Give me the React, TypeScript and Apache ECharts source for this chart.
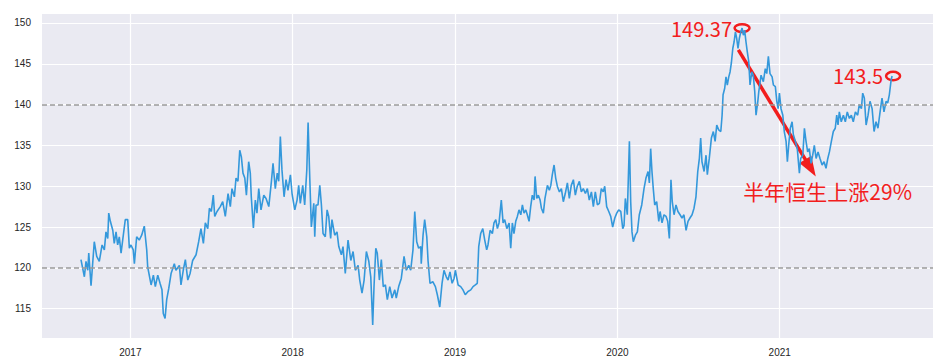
import { useEffect, useRef } from 'react';
import * as echarts from 'echarts';

// decimal-year dates and closing values
const dates = [
  2016.696, 2016.717, 2016.727, 2016.738, 2016.744, 2016.758, 2016.778, 2016.793, 2016.809, 2016.826,
  2016.840, 2016.850, 2016.861, 2016.867, 2016.877, 2016.892, 2016.901, 2016.912, 2016.922, 2016.932,
  2016.943, 2016.953, 2016.969, 2016.984, 2016.994,
  2017.004, 2017.018, 2017.025, 2017.039, 2017.055, 2017.070, 2017.086, 2017.101, 2017.107, 2017.128,
  2017.142, 2017.154, 2017.169, 2017.183, 2017.195, 2017.203, 2017.214, 2017.224, 2017.237, 2017.251,
  2017.271, 2017.281, 2017.302, 2017.312, 2017.326, 2017.339, 2017.354, 2017.368, 2017.384, 2017.405,
  2017.421, 2017.435, 2017.450, 2017.462, 2017.477, 2017.487, 2017.499, 2017.511,
  2017.520, 2017.534, 2017.554, 2017.569, 2017.585, 2017.602, 2017.616, 2017.626, 2017.641, 2017.651,
  2017.663, 2017.674, 2017.684, 2017.694, 2017.705, 2017.715, 2017.729, 2017.739, 2017.745, 2017.758,
  2017.770, 2017.780, 2017.791, 2017.805, 2017.822, 2017.836, 2017.853, 2017.869, 2017.879, 2017.893,
  2017.905, 2017.914, 2017.924, 2017.934, 2017.947, 2017.959, 2017.971, 2017.986, 2017.996,
  2018.013, 2018.027, 2018.037, 2018.047, 2018.062, 2018.074, 2018.087, 2018.095, 2018.105, 2018.115,
  2018.130, 2018.136, 2018.144, 2018.156, 2018.167, 2018.177, 2018.187, 2018.201, 2018.212, 2018.222,
  2018.234, 2018.242, 2018.259, 2018.273, 2018.284, 2018.300, 2018.310, 2018.324, 2018.341,
  2018.358, 2018.372, 2018.386, 2018.403, 2018.413, 2018.427, 2018.440, 2018.454, 2018.469, 2018.481,
  2018.493, 2018.501, 2018.512, 2018.521, 2018.534, 2018.546, 2018.558, 2018.571, 2018.583, 2018.598,
  2018.612, 2018.629, 2018.638, 2018.653, 2018.669, 2018.686, 2018.700, 2018.715, 2018.727, 2018.741,
  2018.752, 2018.764, 2018.776, 2018.789, 2018.792, 2018.803, 2018.813, 2018.826, 2018.834, 2018.846,
  2018.863, 2018.879, 2018.891, 2018.906, 2018.920, 2018.932, 2018.946, 2018.957, 2018.969, 2018.982,
  2018.994,
  2019.002, 2019.019, 2019.035, 2019.049, 2019.063, 2019.080, 2019.097, 2019.111, 2019.125, 2019.137,
  2019.146, 2019.158, 2019.171, 2019.183, 2019.195, 2019.203, 2019.216, 2019.230, 2019.240, 2019.251,
  2019.261, 2019.271, 2019.285, 2019.296, 2019.306, 2019.319, 2019.333, 2019.343, 2019.353, 2019.363,
  2019.374, 2019.384, 2019.394, 2019.405, 2019.415, 2019.425, 2019.436, 2019.445, 2019.456, 2019.466,
  2019.476, 2019.487, 2019.493, 2019.503, 2019.513, 2019.524, 2019.532, 2019.544, 2019.554, 2019.569,
  2019.581, 2019.590, 2019.599, 2019.610, 2019.620, 2019.630, 2019.643, 2019.655, 2019.667, 2019.679,
  2019.692, 2019.704, 2019.716, 2019.729, 2019.741, 2019.753, 2019.766, 2019.778, 2019.790, 2019.803,
  2019.815, 2019.827, 2019.840, 2019.852, 2019.864, 2019.877, 2019.889, 2019.901, 2019.913, 2019.922,
  2019.934, 2019.947, 2019.959, 2019.971, 2019.984, 2019.996,
  2020.008, 2020.021, 2020.033, 2020.041, 2020.049, 2020.061, 2020.074, 2020.082, 2020.090, 2020.098,
  2020.111, 2020.123, 2020.135, 2020.150, 2020.164, 2020.176, 2020.189, 2020.197, 2020.205, 2020.213,
  2020.221, 2020.230, 2020.242, 2020.255, 2020.263, 2020.275, 2020.287, 2020.300, 2020.310, 2020.320,
  2020.330, 2020.338, 2020.349, 2020.361, 2020.373, 2020.386, 2020.398, 2020.410, 2020.423, 2020.435,
  2020.447, 2020.460, 2020.472, 2020.484, 2020.495, 2020.505, 2020.513, 2020.521, 2020.534, 2020.546,
  2020.554, 2020.566, 2020.579, 2020.591, 2020.602, 2020.612, 2020.624, 2020.637, 2020.645, 2020.651,
  2020.661, 2020.669, 2020.677, 2020.686, 2020.694, 2020.702, 2020.711, 2020.719, 2020.727, 2020.735,
  2020.743, 2020.751, 2020.760, 2020.768, 2020.776, 2020.784, 2020.792, 2020.800, 2020.809, 2020.817,
  2020.828, 2020.837, 2020.846, 2020.854, 2020.865, 2020.871, 2020.885, 2020.899, 2020.911, 2020.920,
  2020.930, 2020.940, 2020.953, 2020.961, 2020.973, 2020.982, 2020.990, 2020.998,
  2021.008, 2021.019, 2021.028, 2021.039, 2021.047, 2021.055, 2021.065, 2021.076, 2021.084, 2021.096,
  2021.108, 2021.121, 2021.129, 2021.142, 2021.152, 2021.162, 2021.172, 2021.182, 2021.193, 2021.203,
  2021.213, 2021.224, 2021.236, 2021.248, 2021.261, 2021.273, 2021.285, 2021.296, 2021.306, 2021.318,
  2021.330, 2021.342, 2021.351, 2021.359, 2021.367, 2021.379, 2021.392, 2021.404, 2021.416, 2021.429,
  2021.441, 2021.453, 2021.466, 2021.480, 2021.490, 2021.503, 2021.511, 2021.521, 2021.532, 2021.544,
  2021.556, 2021.569, 2021.581, 2021.593, 2021.605, 2021.618, 2021.630, 2021.642, 2021.655, 2021.665,
  2021.675, 2021.686, 2021.692,
];

const closes = [
  121.0, 118.9, 120.8, 119.7, 121.8, 117.8, 123.2, 121.4, 120.8, 122.8,
  122.2, 124.4, 123.6, 126.7, 125.7, 124.6, 123.0, 124.4, 122.8, 123.8,
  121.8, 123.4, 125.9, 125.9, 122.4,
  122.8, 122.2, 120.5, 123.8, 123.4, 124.0, 125.1, 122.2, 120.1, 117.9,
  119.1, 117.7, 119.1, 118.1, 117.3, 114.4, 113.8, 116.1, 117.5, 119.3,
  120.5, 119.7, 120.3, 117.9, 119.7, 121.0, 118.5, 119.3, 120.9, 121.6,
  123.2, 124.8, 123.0, 125.5, 124.8, 127.3, 126.9, 128.9,
  126.3, 126.9, 127.5, 128.1, 126.3, 129.1, 127.5, 129.7, 128.7, 131.0,
  130.6, 134.4, 133.6, 131.6, 131.0, 128.9, 133.0, 131.6, 128.7, 124.9,
  128.3, 126.7, 129.7, 127.1, 128.9, 128.5, 127.5, 130.6, 132.8, 129.7,
  131.6, 130.6, 136.1, 132.0, 128.7, 130.8, 129.5, 131.4, 129.1,
  127.1, 128.3, 130.1, 127.9, 130.1, 127.7, 132.0, 137.8, 131.2, 125.0,
  127.9, 123.8, 127.7, 127.7, 130.1, 127.7, 124.2, 123.8, 127.1, 126.3,
  123.6, 125.9, 124.0, 124.4, 122.6, 121.6, 122.6, 119.3, 123.4,
  120.9, 122.0, 119.7, 120.3, 118.5, 116.9, 118.5, 122.0, 120.8, 118.9,
  113.0, 117.7, 122.4, 121.8, 118.5, 121.0, 117.7, 117.9, 116.1, 117.7,
  116.3, 117.3, 116.3, 117.7, 118.7, 121.4, 119.7, 120.3, 119.7, 122.2,
  126.9, 123.2, 122.4, 122.6, 120.5, 124.0, 125.9, 123.8, 120.8, 118.1,
  118.3, 117.7, 116.7, 115.2, 118.1, 119.7, 118.9, 118.5, 119.5, 118.1,
  118.7,
  119.7, 117.9, 117.7, 117.3, 116.7, 117.1, 117.3, 117.7, 117.9, 118.1,
  122.6, 124.2, 124.8, 123.4, 122.2, 122.8, 124.6, 124.2, 125.5, 125.9,
  124.8, 125.5, 128.3, 125.5, 125.9, 124.8, 125.5, 122.4, 125.5, 124.2,
  125.7, 126.3, 127.1, 126.5, 127.7, 126.7, 127.1, 126.5, 125.7, 127.5,
  128.9, 128.3, 131.2, 128.5, 128.9, 128.3, 127.3, 126.7, 128.5, 130.1,
  129.5, 130.1, 131.4, 132.6, 131.0, 130.0, 129.3, 129.7, 128.1, 129.1,
  130.4, 128.5, 130.1, 130.8, 128.9, 130.0, 130.6, 129.3, 129.7, 129.1,
  129.7, 128.3, 129.3, 127.5, 129.3, 127.7, 127.9, 129.7, 129.3, 130.0,
  127.5, 126.9, 126.3, 125.0, 126.1, 126.7,
  127.1, 126.9, 124.8, 125.2, 128.5, 126.5, 135.5, 128.1, 124.4, 123.2,
  124.0, 124.4, 126.5, 127.7, 129.7, 131.0, 131.8, 130.4, 134.6, 131.8,
  129.7, 127.7, 128.1, 125.7, 126.9, 125.5, 126.5, 126.3, 125.7, 123.6,
  130.8, 128.1, 126.5, 127.7, 126.9, 126.5, 126.1, 126.5, 124.6, 125.7,
  126.1, 126.5, 127.3, 128.7, 131.8, 133.4, 135.9, 133.0, 131.8, 133.8,
  131.4, 133.4, 135.9, 136.7, 135.5, 137.5, 136.9, 136.7, 138.7, 141.2,
  142.0, 143.4, 142.4, 143.4, 144.0, 145.1, 146.9, 147.7, 148.9, 148.1,
  146.9, 148.1, 148.9, 149.37, 148.5, 149.1, 147.7, 146.5, 145.3, 142.4,
  144.0, 143.6, 141.6, 138.7, 140.4, 141.6, 143.6, 142.8, 144.4, 143.8,
  145.9, 143.8, 143.4, 142.4, 142.2, 140.4, 139.5, 141.4,
  139.5, 138.7, 136.7, 135.5, 133.0, 135.0, 137.1, 137.9, 136.3, 135.5,
  134.6, 131.6, 133.4, 133.8, 137.1, 135.5, 134.2, 134.6, 132.8, 133.8,
  135.0, 133.4, 134.2, 133.4, 132.6, 133.0, 132.2, 133.4, 134.2, 135.5,
  136.7, 137.1, 138.7, 137.5, 139.1, 137.9, 138.7, 137.9, 139.1, 138.3,
  138.7, 137.9, 139.1, 138.7, 140.0, 139.5, 141.4, 140.8, 137.5, 138.7,
  140.4, 139.5, 136.7, 137.9, 137.1, 139.1, 140.8, 139.1, 140.4, 140.2,
  141.2, 143.0, 143.5,
];

const xTickYears = [2017, 2018, 2019, 2020, 2021];
const yTickValues = [115, 120, 125, 130, 135, 140, 145, 150];
const refLevels = [120, 140];
const xRange = [2016.456, 2021.944];
const yRange = [111.4, 151.1];

const peakPoint = [2020.768, 149.37];
const lastPoint = [2021.692, 143.5];
const peakLabel = '149.37';
const lastLabel = '143.5';
const arrowFrom = [2020.745, 146.7];
const arrowTo = [2021.222, 131.2];
const noteAnchor = [2020.776, 129.4];
const noteText = '半年恒生上涨29%';

const axisFont = 'Liberation Sans, Arial, sans-serif';
const noteFont = '"Noto Sans CJK SC", "Liberation Sans", sans-serif';
const RED = '#f21d1d';

export default function App() {
  const ref = useRef<HTMLDivElement>(null);

  useEffect(() => {
    const chart = echarts.init(ref.current as HTMLDivElement, null, { renderer: 'svg' });
    const data = dates.map((d, i) => [d, closes[i]]);

    chart.setOption({
      animation: false,
      backgroundColor: '#ffffff',
      grid: {
        left: 42, right: 15, top: 14, bottom: 26,
        show: true, backgroundColor: '#EAEAF2', borderWidth: 0,
      },
      xAxis: {
        type: 'value',
        min: xRange[0],
        max: xRange[1],
        axisLine: { show: false },
        axisTick: { show: false, customValues: xTickYears },
        splitLine: { show: true, customValues: xTickYears, lineStyle: { color: '#ffffff', width: 1.2 } },
        axisLabel: {
          customValues: xTickYears,
          formatter: (v: number) => String(Math.round(v)),
          fontSize: 10, color: '#262626', margin: 9, fontFamily: axisFont,
        },
      },
      yAxis: {
        type: 'value',
        min: yRange[0],
        max: yRange[1],
        axisLine: { show: false },
        axisTick: { show: false, customValues: yTickValues },
        splitLine: { show: true, customValues: yTickValues, lineStyle: { color: '#ffffff', width: 1.2 } },
        axisLabel: {
          customValues: yTickValues,
          fontSize: 10, color: '#262626', margin: 11, fontFamily: axisFont,
        },
      },
      series: [
        {
          type: 'line',
          data,
          showSymbol: false,
          lineStyle: { color: '#3498db', width: 1.6 },
          markLine: {
            silent: true,
            symbol: 'none',
            label: { show: false },
            lineStyle: { type: [5, 3], color: '#9a9a9a', width: 1.5 },
            data: refLevels.map((v) => ({ yAxis: v })),
          },
        },
      ],
    });

    const px = (p: number[]) => chart.convertToPixel({ gridIndex: 0 }, p) as number[];
    const pk = px(peakPoint);
    const ls = px(lastPoint);
    const a = px(arrowFrom);
    const b = px(arrowTo);
    const nt = px(noteAnchor);

    const dx = b[0] - a[0];
    const dy = b[1] - a[1];
    const len = Math.hypot(dx, dy);
    const ux = dx / len;
    const uy = dy / len;
    const headLen = 20;
    const headHalf = 7;
    const base = [b[0] - ux * headLen, b[1] - uy * headLen];
    const nx = -uy;
    const ny = ux;

    chart.setOption({
      graphic: [
        {
          type: 'ellipse',
          shape: { cx: pk[0], cy: pk[1], rx: 7.5, ry: 3.8 },
          style: { fill: 'none', stroke: RED, lineWidth: 2.5 },
        },
        {
          type: 'ellipse',
          shape: { cx: ls[0] + 1, cy: ls[1], rx: 7, ry: 4.2 },
          style: { fill: 'none', stroke: RED, lineWidth: 2.5 },
        },
        {
          type: 'text',
          x: pk[0] - 10,
          y: pk[1],
          style: {
            text: peakLabel, fill: RED, fontSize: 20, fontFamily: noteFont,
            align: 'right', verticalAlign: 'middle',
          },
        },
        {
          type: 'text',
          x: ls[0] - 9,
          y: ls[1] - 1,
          style: {
            text: lastLabel, fill: RED, fontSize: 20, fontFamily: noteFont,
            align: 'right', verticalAlign: 'middle',
          },
        },
        {
          type: 'line',
          shape: { x1: a[0], y1: a[1], x2: base[0] + ux * 2, y2: base[1] + uy * 2 },
          style: { stroke: RED, lineWidth: 3.5 },
        },
        {
          type: 'polygon',
          shape: {
            points: [
              [b[0], b[1]],
              [base[0] + nx * headHalf, base[1] + ny * headHalf],
              [base[0] - nx * headHalf, base[1] - ny * headHalf],
            ],
          },
          style: { fill: RED },
        },
        {
          type: 'text',
          x: nt[0],
          y: nt[1],
          style: {
            text: noteText, fill: RED, fontSize: 21, fontFamily: noteFont,
            align: 'left', verticalAlign: 'middle',
          },
        },
      ],
    });

    return () => chart.dispose();
  }, []);

  return (
    <div
      ref={ref}
      style={{ position: 'fixed', left: 0, top: 0, width: 948, height: 364 }}
    />
  );
}
